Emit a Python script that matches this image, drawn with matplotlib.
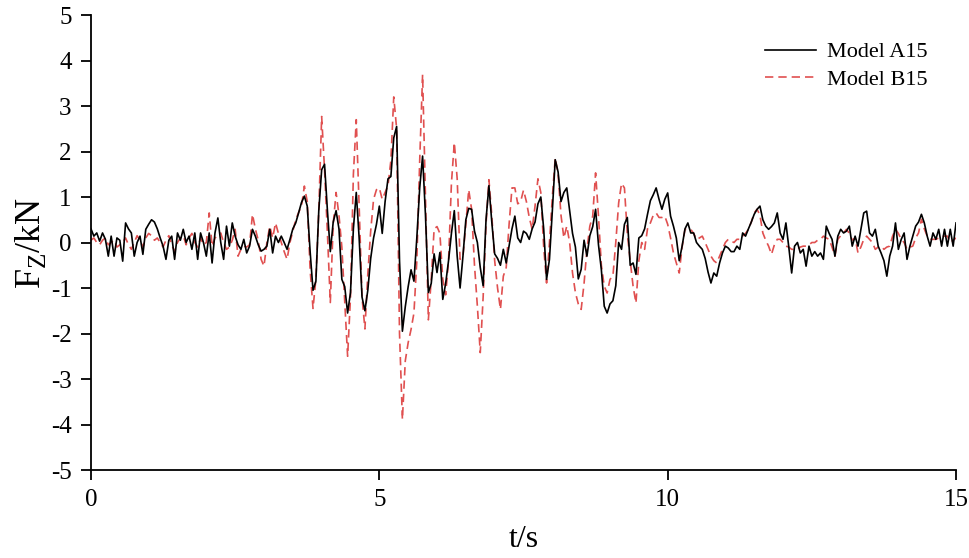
import numpy as np
import matplotlib
matplotlib.use("Agg")
import matplotlib.pyplot as plt

# sampled every 0.05 s, 0 .. 15 s (one row = one second)
model_a15 = [
    0.30, 0.14, 0.21, 0.03, 0.21, 0.07, -0.30, 0.14, -0.30, 0.10, 0.05, -0.41, 0.43, 0.30, 0.21, -0.30, 0.00, 0.14, -0.26, 0.29,
    0.40, 0.50, 0.45, 0.30, 0.10, -0.08, -0.37, 0.05, 0.14, -0.37, 0.21, 0.05, 0.29, 0.00, 0.14, -0.15, 0.21, -0.37, 0.21, 0.00,
    -0.30, 0.21, -0.45, 0.21, 0.54, 0.00, -0.37, 0.36, -0.08, 0.43, 0.14, -0.05, -0.15, 0.07, -0.23, -0.08, 0.29, 0.14, -0.05, -0.19,
    -0.15, -0.08, 0.29, -0.23, 0.14, 0.00, 0.14, 0.00, -0.15, 0.07, 0.30, 0.43, 0.65, 0.88, 1.02, 0.80, -0.20, -1.05, -0.85, 0.70,
    1.60, 1.72, 0.70, -0.20, 0.45, 0.70, 0.30, -0.81, -0.97, -1.55, -1.10, 0.30, 1.10, 0.10, -1.20, -1.50, -1.05, -0.35, 0.10, 0.40,
    0.80, 0.20, 0.90, 1.40, 1.45, 2.30, 2.55, -0.40, -1.95, -1.41, -0.97, -0.60, -0.85, 0.10, 1.20, 1.90, 0.60, -1.10, -0.90, -0.25,
    -0.66, -0.22, -1.25, -0.90, -0.40, 0.20, 0.70, -0.30, -1.00, -0.30, 0.50, 0.75, 0.73, 0.25, 0.00, -0.55, -0.95, 0.50, 1.25, 0.45,
    -0.25, -0.35, -0.50, -0.15, -0.45, -0.08, 0.30, 0.58, 0.10, 0.00, 0.25, 0.20, 0.07, 0.30, 0.45, 0.85, 1.00, 0.30, -0.81, -0.37,
    0.70, 1.82, 1.55, 0.90, 1.10, 1.20, 0.70, 0.20, -0.10, -0.80, -0.59, 0.05, -0.30, 0.15, 0.35, 0.73, -0.05, -0.60, -1.40, -1.55,
    -1.35, -1.28, -0.95, 0.00, -0.15, 0.40, 0.55, -0.50, -0.45, -0.70, 0.10, 0.15, 0.30, 0.62, 0.92, 1.05, 1.20, 0.95, 0.73, 0.95,
    1.09, 0.58, 0.36, 0.10, -0.40, -0.08, 0.30, 0.43, 0.21, 0.21, 0.00, -0.08, -0.15, -0.35, -0.65, -0.89, -0.67, -0.74, -0.45, -0.23,
    -0.08, -0.12, -0.20, -0.20, -0.08, -0.15, 0.21, 0.14, 0.30, 0.45, 0.62, 0.73, 0.80, 0.50, 0.36, 0.29, 0.35, 0.43, 0.65, 0.21,
    0.07, 0.43, -0.10, -0.67, -0.08, 0.00, -0.23, -0.15, -0.52, -0.08, -0.30, -0.20, -0.30, -0.23, -0.37, 0.36, 0.20, 0.07, -0.30, 0.14,
    0.29, 0.21, 0.25, 0.36, -0.08, 0.14, -0.08, 0.29, 0.65, 0.69, 0.21, 0.14, 0.29, -0.08, -0.23, -0.40, -0.74, -0.30, -0.08, 0.43,
    -0.15, 0.07, 0.21, -0.37, -0.08, 0.14, 0.36, 0.45, 0.62, 0.43, 0.14, -0.08, 0.21, 0.07, 0.29, -0.08, 0.29, -0.08, 0.29, -0.08,
    0.43,
]

model_b15 = [
    0.05, 0.10, 0.00, -0.05, 0.05, 0.10, -0.05, 0.00, 0.05, -0.10, -0.05, 0.00, 0.10, -0.05, -0.15, 0.00, 0.15, 0.05, -0.10, 0.10,
    0.20, 0.15, 0.05, 0.10, 0.00, -0.10, 0.05, 0.15, -0.05, -0.20, 0.00, 0.10, 0.15, -0.05, 0.10, 0.20, 0.00, -0.10, 0.10, -0.05,
    0.00, 0.65, -0.08, 0.10, 0.15, 0.21, 0.00, -0.15, -0.10, 0.05, 0.29, -0.30, -0.15, -0.08, -0.10, -0.05, 0.62, 0.30, 0.05, -0.37,
    -0.52, 0.00, 0.36, 0.10, 0.43, 0.20, 0.00, -0.20, -0.37, 0.00, 0.25, 0.50, 0.66, 0.80, 1.24, 0.90, -0.60, -1.45, -0.80, 0.70,
    2.77, 1.60, 0.20, -1.32, 0.40, 1.10, 0.60, -0.10, -1.30, -2.50, -1.20, 1.50, 2.70, 0.80, -1.20, -1.90, -0.70, 0.25, 0.95, 1.16,
    1.20, 0.95, 1.10, 1.25, 1.80, 3.20, 2.50, -2.00, -3.89, -2.60, -2.20, -1.91, -1.55, -0.40, 1.80, 3.69, 1.00, -1.70, -0.81, 0.30,
    0.35, 0.20, -0.80, -1.15, -0.40, 1.30, 2.20, 1.40, -0.37, -0.30, 0.40, 1.16, 0.73, -0.50, -1.40, -2.42, -1.20, 0.40, 1.38, 0.60,
    -0.40, -1.00, -1.47, -0.74, -0.55, 0.40, 1.20, 1.20, 0.85, 0.90, 1.15, 0.90, 0.55, 0.29, 0.80, 1.40, 1.10, -0.10, -0.89, 0.00,
    1.00, 1.86, 1.50, 0.60, 0.10, 0.36, 0.00, -0.67, -1.10, -1.35, -1.47, -0.90, -0.15, 0.36, 0.58, 1.53, 0.58, -0.50, -0.96, -1.11,
    -0.81, -0.74, 0.00, 0.87, 1.30, 1.20, 0.20, -0.40, -0.96, -1.33, -0.40, 0.00, -0.15, 0.30, 0.43, 0.60, 0.65, 0.55, 0.55, 0.58,
    0.40, 0.10, -0.23, -0.45, -0.67, -0.10, 0.29, 0.29, 0.29, 0.20, 0.07, 0.10, 0.14, 0.00, -0.15, -0.30, -0.40, -0.45, -0.30, -0.15,
    0.00, 0.07, 0.03, 0.00, 0.07, 0.07, 0.14, 0.20, 0.29, 0.45, 0.65, 0.73, 0.60, 0.21, 0.05, -0.08, -0.26, -0.05, 0.07, 0.07,
    0.00, -0.08, -0.10, -0.15, -0.15, -0.15, -0.10, -0.08, -0.08, -0.05, 0.00, 0.00, 0.05, 0.07, 0.14, 0.10, 0.07, -0.10, -0.30, 0.07,
    0.15, 0.21, 0.29, 0.20, 0.05, 0.10, -0.23, -0.10, 0.07, 0.14, 0.07, 0.00, -0.15, -0.10, -0.08, -0.15, -0.10, -0.08, 0.14, 0.29,
    0.20, 0.07, 0.00, -0.15, -0.10, -0.08, 0.10, 0.21, 0.51, 0.30, 0.14, 0.07, 0.07, 0.07, 0.10, 0.14, 0.14, 0.14, 0.00, 0.05,
    0.10,
]

t = np.linspace(0, 15, len(model_a15))
x_ticks = [0, 5, 10, 15]
y_ticks = [-5, -4, -3, -2, -1, 0, 1, 2, 3, 4, 5]

plt.rcParams['font.family'] = ['Liberation Serif', 'DejaVu Serif']
plt.rcParams['mathtext.fontset'] = 'custom'
plt.rcParams['mathtext.rm'] = 'Liberation Serif'
plt.rcParams['axes.unicode_minus'] = False

fig = plt.figure(figsize=(9.7, 5.58), dpi=100)
ax = fig.add_axes([0.0938, 0.1577, 0.8918, 0.8154])

ax.plot(t, model_a15, color='black', lw=1.2, label='Model A15', zorder=3)
ax.plot(t, model_b15, color='#e05050', lw=1.2, linestyle=(0, (5, 3)), label='Model B15', zorder=2)

ax.set_xlim(0, 15)
ax.set_ylim(-5, 5)
ax.set_xticks(x_ticks)
ax.set_yticks(y_ticks)
ax.spines['top'].set_visible(False)
ax.spines['right'].set_visible(False)
ax.spines['left'].set_linewidth(1.3)
ax.spines['bottom'].set_linewidth(1.3)
ax.tick_params(direction='out', length=7, width=1.3, labelsize=18, pad=7)

ax.set_xlabel('t/s', fontsize=23, labelpad=10)
ax.set_ylabel(r'F$_\mathregular{Z}$/kN', fontsize=26, labelpad=2)

ax.legend(loc='upper right', bbox_to_anchor=(0.99, 0.985), frameon=False,
          fontsize=16, handlelength=2.3, labelspacing=0.3, handletextpad=0.5)

fig.savefig('out.png', dpi=100)
